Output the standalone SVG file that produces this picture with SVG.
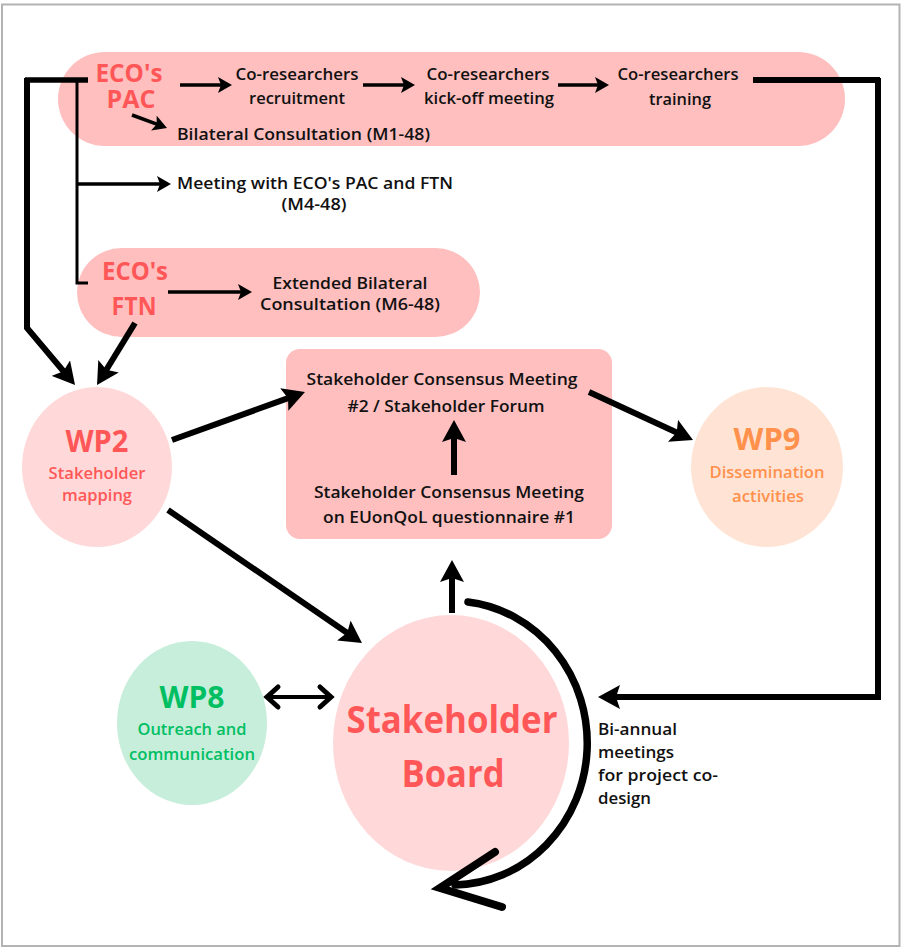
<svg xmlns="http://www.w3.org/2000/svg" width="901" height="947" viewBox="0 0 901 947">
<defs>
<style>
.t{font-family:"Open Sans","Liberation Sans",sans-serif;font-weight:600;font-size:17px;fill:#111;text-anchor:middle}
.l{text-anchor:start}
.n{font-size:16px}
.red{fill:#ff5757}
.org{fill:#ff914d}
.grn{fill:#00bf63}
.h{font-weight:700}
.s25{font-size:25px}
.s31{font-size:31px}
.s38{font-size:38px}
.ln{fill:none;stroke:#000;stroke-linejoin:miter}
.thin{stroke-width:3.5;marker-end:url(#a)}
.thick{stroke-width:6;marker-end:url(#b)}
</style>
<marker id="a" viewBox="0 0 14 16" markerWidth="14" markerHeight="16" refX="6" refY="8" orient="auto" markerUnits="userSpaceOnUse"><path d="M0,0 L14,8 L0,16 L3,8 z" fill="#000"/></marker>
<marker id="b" viewBox="0 0 22 24" markerWidth="22" markerHeight="24" refX="10" refY="12" orient="auto" markerUnits="userSpaceOnUse"><path d="M0,0 L22,12 L0,24 L4,12 z" fill="#000"/></marker>
</defs>
<rect x="0" y="0" width="901" height="947" fill="#fff"/>
<rect x="2" y="4.5" width="897.5" height="941.5" fill="none" stroke="#b3b3b3" stroke-width="2"/>

<g id="pac-pill">
<rect x="58" y="52" width="787" height="94" rx="47" fill="#ffbfbf"/>
<text class="t red h s25" x="129" y="82" textLength="67" lengthAdjust="spacingAndGlyphs">ECO's</text>
<text class="t red h s25" x="131" y="108" textLength="49" lengthAdjust="spacingAndGlyphs">PAC</text>
</g>
<g id="recruitment">
<text class="t" x="297" y="80" textLength="123" lengthAdjust="spacingAndGlyphs">Co-researchers</text>
<text class="t" x="297" y="104" textLength="96" lengthAdjust="spacingAndGlyphs">recruitment</text>
</g>
<g id="kickoff">
<text class="t" x="488" y="80" textLength="123" lengthAdjust="spacingAndGlyphs">Co-researchers</text>
<text class="t" x="489" y="104" textLength="130" lengthAdjust="spacingAndGlyphs">kick-off meeting</text>
</g>
<g id="training">
<text class="t" x="678" y="80" textLength="121" lengthAdjust="spacingAndGlyphs">Co-researchers</text>
<text class="t" x="680" y="105" textLength="62" lengthAdjust="spacingAndGlyphs">training</text>
</g>
<g id="bilateral">
<text class="t l" x="177" y="140" textLength="253" lengthAdjust="spacingAndGlyphs">Bilateral Consultation (M1-48)</text>
</g>
<g id="meeting-pac-ftn">
<text class="t l" x="177" y="189" textLength="276" lengthAdjust="spacingAndGlyphs">Meeting with ECO's PAC and FTN</text>
<text class="t" x="314" y="210" textLength="65" lengthAdjust="spacingAndGlyphs">(M4-48)</text>
</g>
<g id="ftn-pill">
<rect x="77" y="248" width="403" height="89" rx="44.5" fill="#ffbfbf"/>
<text class="t red h s25" x="135" y="280" textLength="66" lengthAdjust="spacingAndGlyphs">ECO's</text>
<text class="t red h s25" x="134" y="315" textLength="45" lengthAdjust="spacingAndGlyphs">FTN</text>
</g>
<g id="extended-bilateral">
<text class="t" x="350" y="289" textLength="155" lengthAdjust="spacingAndGlyphs">Extended Bilateral</text>
<text class="t" x="350" y="310" textLength="180" lengthAdjust="spacingAndGlyphs">Consultation (M6-48)</text>
</g>
<g id="wp2">
<ellipse cx="97" cy="467" rx="75" ry="80" fill="#ffd9d9"/>
<text class="t red h s31" x="97" y="452" textLength="63" lengthAdjust="spacingAndGlyphs">WP2</text>
<text class="t red" x="97" y="479" textLength="97" lengthAdjust="spacingAndGlyphs">Stakeholder</text>
<text class="t red" x="97" y="501" textLength="70" lengthAdjust="spacingAndGlyphs">mapping</text>
</g>
<g id="consensus-box">
<rect x="286" y="349" width="326" height="190" rx="14" fill="#ffbfbf"/>
<text class="t" x="442" y="385" textLength="271" lengthAdjust="spacingAndGlyphs">Stakeholder Consensus Meeting</text>
<text class="t" x="446" y="412" textLength="197" lengthAdjust="spacingAndGlyphs">#2 / Stakeholder Forum</text>
<text class="t" x="449" y="498" textLength="270" lengthAdjust="spacingAndGlyphs">Stakeholder Consensus Meeting</text>
<text class="t" x="449" y="523" textLength="252" lengthAdjust="spacingAndGlyphs">on EUonQoL questionnaire #1</text>
</g>
<g id="wp9">
<ellipse cx="767" cy="467" rx="76" ry="80" fill="#ffe4d5"/>
<text class="t org h s31" x="767" y="450" textLength="67" lengthAdjust="spacingAndGlyphs">WP9</text>
<text class="t org" x="767" y="478" textLength="115" lengthAdjust="spacingAndGlyphs">Dissemination</text>
<text class="t org" x="768" y="502" textLength="72" lengthAdjust="spacingAndGlyphs">activities</text>
</g>
<g id="wp8">
<ellipse cx="192" cy="723" rx="75" ry="82" fill="#c6eedb"/>
<text class="t grn h s31" x="192" y="708" textLength="65" lengthAdjust="spacingAndGlyphs">WP8</text>
<text class="t grn" x="192" y="735" textLength="109" lengthAdjust="spacingAndGlyphs">Outreach and</text>
<text class="t grn" x="192" y="760" textLength="126" lengthAdjust="spacingAndGlyphs">communication</text>
</g>
<g id="stakeholder-board">
<ellipse cx="451" cy="743" rx="118" ry="128" fill="#ffd9d9"/>
<text class="t red h s38" x="452" y="733" textLength="211" lengthAdjust="spacingAndGlyphs">Stakeholder</text>
<text class="t red h s38" x="453" y="787" textLength="103" lengthAdjust="spacingAndGlyphs">Board</text>
</g>
<g id="biannual-label">
<text class="t l n" x="598" y="735" textLength="79" lengthAdjust="spacingAndGlyphs">Bi-annual</text>
<text class="t l n" x="598" y="758" textLength="76" lengthAdjust="spacingAndGlyphs">meetings</text>
<text class="t l n" x="598" y="781" textLength="120" lengthAdjust="spacingAndGlyphs">for project co-</text>
<text class="t l n" x="598" y="804" textLength="53" lengthAdjust="spacingAndGlyphs">design</text>
</g>

<g id="connectors">
<line class="ln thin" x1="180" y1="85" x2="224" y2="85"/>
<line class="ln thin" x1="363" y1="85" x2="407" y2="85"/>
<line class="ln thin" x1="558" y1="85" x2="601" y2="85"/>
<line class="ln thin" x1="132" y1="115" x2="159.5" y2="125.2"/>
<line class="ln thin" x1="77" y1="184" x2="163" y2="184" stroke-width="3"/>
<line class="ln thin" x1="168" y1="292" x2="244" y2="292"/>
<path class="ln" d="M25,80 H88" stroke-width="5.5"/>
<path class="ln thick" d="M27,78 V328 L67.3,375.8" stroke-width="5.5"/>
<path class="ln" d="M77,80 V283 H88" stroke-width="3"/>
<line class="ln thick" x1="135" y1="323" x2="103.3" y2="374.8"/>
<line class="ln thick" x1="172" y1="440" x2="293.7" y2="396.1"/>
<line class="ln thick" x1="168" y1="510" x2="352.1" y2="636.2"/>
<line class="ln thick" x1="454" y1="475" x2="454" y2="432" stroke-width="5"/>
<line class="ln thick" x1="589" y1="392" x2="682.1" y2="435"/>
<line class="ln thick" x1="452" y1="613" x2="452" y2="572" stroke-width="4.5"/>
<path class="ln" d="M753,80 H880" stroke-width="6"/>
<path class="ln thick" d="M878,78 V697 H610" stroke-width="4.5"/>
<path class="ln" d="M268,697 H329" stroke-width="4"/>
<path class="ln" d="M278,687 L267,697 L278,707 M320,687 L331,697 L320,707" stroke-width="5" stroke-linecap="round" stroke-linejoin="round"/>
<path class="ln" d="M468,602 A135 142 0 0 1 455,885" stroke-width="7.5" stroke-linecap="round"/>
<path class="ln" d="M495,852 L440,888 L502,907" stroke-width="8" stroke-linecap="round" stroke-linejoin="round"/>
</g>
</svg>
